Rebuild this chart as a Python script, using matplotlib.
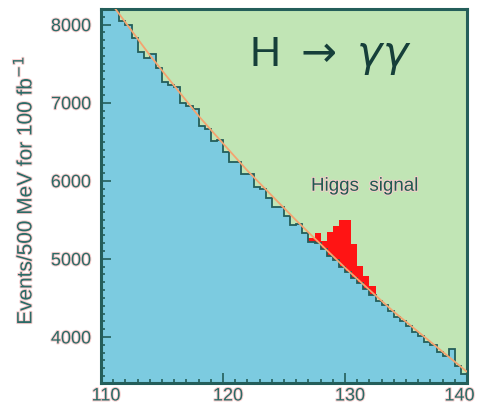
import numpy as np
import matplotlib
matplotlib.use("Agg")
import matplotlib.pyplot as plt
import matplotlib.patheffects as pe
from matplotlib.transforms import ScaledTranslation
from matplotlib.ticker import MultipleLocator

# diphoton mass histogram, 500 MeV bins from 110 to 140 GeV
bin_lo = 110.0
bin_hi = 140.0
background = [8500, 8354, 8188, 8052, 7996, 7830, 7654, 7568, 7630, 7442,
              7264, 7226, 7198, 6990, 6952, 6914, 6696, 6668, 6510, 6522,
              6374, 6236, 6238, 6090, 6090, 5920, 5900, 5780, 5670, 5670,
              5550, 5430, 5444, 5328, 5212, 5206, 5120, 5040, 4980, 4900,
              4830, 4760, 4690, 4610, 4540, 4456, 4405, 4334, 4260, 4206,
              4142, 4068, 4014, 3940, 3896, 3812, 3758, 3840, 3630, 3530]
signal = [0, 0, 0, 0, 0, 0, 0, 0, 0, 0,
          0, 0, 0, 0, 0, 0, 0, 0, 0, 0,
          0, 0, 0, 0, 0, 0, 0, 0, 0, 0,
          0, 0, 0, 0, 60, 130, 110, 300, 440, 595,
          665, 430, 217, 170, 110, 0, 0, 0, 0, 0,
          0, 0, 0, 0, 0, 0, 0, 0, 0, 0]

# background fit curve
fit_x = [110, 112, 114, 116, 118, 120, 122, 124, 126, 128, 130, 132, 134, 136, 138, 140]
fit_y = [8450, 8029, 7609, 7217, 6830, 6478, 6130, 5810, 5492, 5188, 4886, 4602, 4322, 4066, 3810, 3554]

xticks = [110, 120, 130, 140]

blue = '#7ccbe0'
green = '#c1e5b5'
red = '#ff1414'
teal = '#245e5a'
text_col = '#2a6a66'
halo = [pe.withStroke(linewidth=1.4, foreground='#f8cccc')]

plt.rcParams['font.family'] = ['Liberation Sans', 'DejaVu Sans']

fig = plt.figure(figsize=(4.78, 4.10), dpi=100)
ax = fig.add_axes([101/478, 26/410, 366/478, 374/410])
ax.set_facecolor(green)

edges = np.linspace(bin_lo, bin_hi, len(background) + 1)
bkg = np.array(background)
tot = bkg + np.array(signal)

ax.stairs(bkg, edges, baseline=0, fill=True, color=blue, zorder=1)
ax.stairs(tot, edges, baseline=bkg, fill=True, color=red, zorder=2)
ax.stairs(bkg, edges, baseline=None, color=teal, lw=1.3, zorder=3)
ax.plot(fit_x, fit_y, color='#f4a470', lw=1.3, zorder=4)

ax.set_xlim(110, 140)
ax.set_ylim(3410, 8200)
ax.set_xticks(xticks)
ax.xaxis.set_minor_locator(MultipleLocator(1))
ax.yaxis.set_major_locator(MultipleLocator(1000))
ax.yaxis.set_minor_locator(MultipleLocator(100))
ax.tick_params(which='both', direction='in', color=teal, width=1.2,
               labelcolor=text_col, labelsize=13)
ax.tick_params(which='major', length=7)
ax.tick_params(which='minor', length=3)
ax.tick_params(axis='y', pad=7)
ax.tick_params(axis='x', labelbottom=False)
for s in ax.spines.values():
    s.set_color(teal)
    s.set_linewidth(2.2)
for lab in ax.get_yticklabels():
    lab.set_path_effects(halo)

# x tick labels sit a little right of their ticks in the original
xtrans = ax.get_xaxis_transform()
for i, v in enumerate(xticks):
    dx = 0.05 if i < len(xticks) - 1 else -0.075
    ax.text(v, -0.012, str(v), transform=xtrans + ScaledTranslation(dx, 0, fig.dpi_scale_trans),
            ha='center', va='top', fontsize=13, color=text_col, path_effects=halo, clip_on=False)

ax.text(128.8, 7617, r'H $\rightarrow$ $\gamma\gamma$', fontsize=31, color='#163f3a',
        ha='center', va='center', zorder=5)
ax.text(131.6, 5930, 'Higgs  signal', fontsize=13.5, color='#1f5a50',
        ha='center', va='center', zorder=5, path_effects=halo)

fig.text(23/478, 0.534, r'Events/500 MeV for 100 fb$^{-1}$', rotation=90,
         ha='center', va='center', fontsize=15, color=text_col, path_effects=halo)

fig.savefig('out.png', dpi=100)
